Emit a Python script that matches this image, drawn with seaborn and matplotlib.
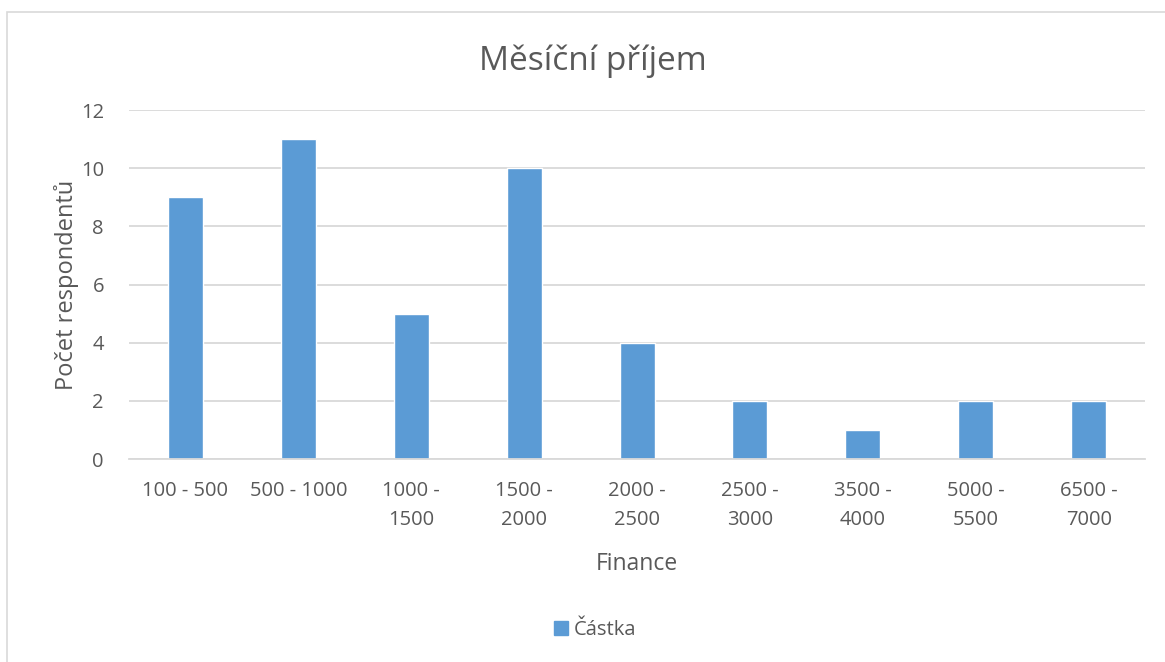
import matplotlib
matplotlib.use("Agg")
import matplotlib.pyplot as plt
import pandas as pd
import seaborn as sns
from matplotlib.patches import Rectangle

# data
categories = ["100 - 500", "500 - 1000", "1000 -\n1500", "1500 -\n2000", "2000 -\n2500",
              "2500 -\n3000", "3500 -\n4000", "5000 -\n5500", "6500 -\n7000"]
counts = [9, 11, 5, 10, 4, 2, 1, 2, 2]
series_name = "Částka"

df = pd.DataFrame({"Finance": categories, "Počet": counts, "Série": series_name})

sns.set_theme(style="white")
plt.rcParams["font.family"] = ["Open Sans", "DejaVu Sans"]

text_col = "#595959"
bar_col = "#5B9BD5"

fig = plt.figure(figsize=(11.65, 6.62), dpi=100)
ax = fig.add_axes([0.1107, 0.3066, 0.8722, 0.5272])

sns.barplot(data=df, x="Finance", y="Počet", hue="Série", palette=[bar_col],
            width=0.31, ax=ax, legend=False, saturation=1)

ax.set_ylim(0, 12)
ax.set_yticks(range(0, 13, 2))
ax.yaxis.grid(True, color="#d9d9d9", linewidth=1.3)
ax.set_axisbelow(True)
for s in ["top", "right", "left"]:
    ax.spines[s].set_visible(False)
ax.spines["bottom"].set_color("#d9d9d9")
ax.spines["bottom"].set_linewidth(1.3)
ax.tick_params(axis="both", length=0, labelsize=14.5, colors=text_col)
ax.tick_params(axis="x", pad=16)
ax.tick_params(axis="y", pad=18)
for lab in ax.get_xticklabels():
    lab.set_linespacing(1.6)

ax.set_xlabel("Finance", fontsize=16.5, color=text_col, labelpad=16)
ax.set_ylabel("Počet respondentů", fontsize=17, color=text_col, labelpad=1)

fig.text(0.509, 0.908, "Měsíční příjem", ha="center", va="center",
         fontsize=24, color=text_col)

# legend
fig.legend(handles=[Rectangle((0, 0), 1, 1, color=bar_col)], labels=[series_name],
           loc="center", bbox_to_anchor=(0.511, 0.048), frameon=False,
           fontsize=14.5, labelcolor=text_col, handlelength=0.7, handleheight=0.7,
           handletextpad=0.3)

# chart frame
fig.add_artist(Rectangle((7 / 1165, -0.05), 1.1, 1 - 12 / 662 + 0.05,
                         transform=fig.transFigure, fill=False,
                         edgecolor="#d9d9d9", linewidth=1.2))

fig.savefig("out.png", dpi=100)
